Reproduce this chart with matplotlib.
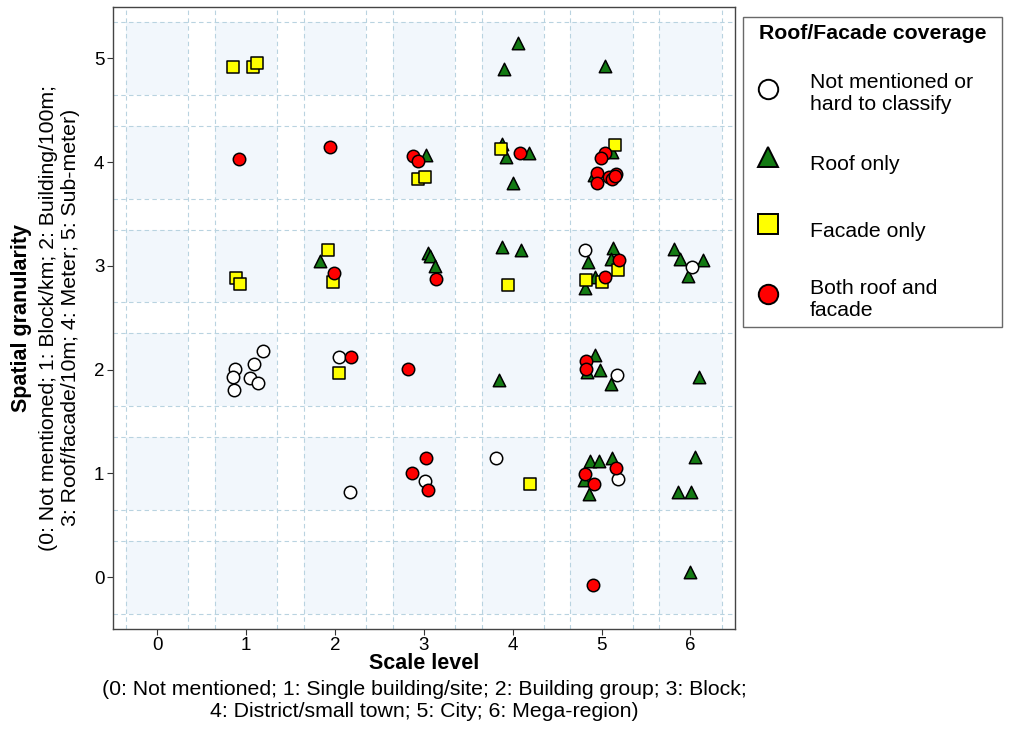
import matplotlib
matplotlib.use("Agg")
import matplotlib.pyplot as plt
from matplotlib.lines import Line2D
from matplotlib.patches import Rectangle

plt.rcParams['font.family'] = ['Liberation Sans', 'DejaVu Sans']

# scale level (x) / spatial granularity (y), jittered positions
none_x = [0.876, 0.854, 0.861, 1.045, 1.086, 1.135, 1.191, 2.041, 2.169, 3.011,
          3.813, 4.809, 6.019, 5.172, 5.183]
none_y = [2.01, 1.934, 1.80, 1.924, 2.052, 1.872, 2.184, 2.12, 0.819, 0.925,
          1.146, 3.157, 2.99, 1.946, 0.944]

roof_x = [1.835, 3.022, 3.045, 3.075, 3.124,
          4.064, 3.906, 3.884, 3.929, 4.184, 4.008, 3.876, 4.09, 3.85,
          5.037, 5.12, 4.914, 5.124, 4.846, 5.101, 4.921, 4.817,
          4.839, 4.921, 4.985, 5.109,
          4.873, 4.97, 5.116, 4.801, 4.862,
          5.82, 5.88, 6.146, 5.974, 6.094, 6.056, 5.862, 6.011, 6.0]
roof_y = [3.044, 4.068, 3.128, 3.092, 2.999,
          5.151, 4.9, 4.178, 4.049, 4.09, 3.799, 3.182, 3.15, 1.898,
          4.926, 4.097, 3.873, 3.172, 3.038, 3.07, 2.893, 2.791,
          1.978, 2.139, 1.994, 1.866,
          1.12, 1.12, 1.153, 0.941, 0.806,
          3.167, 3.07, 3.06, 2.9, 1.93, 1.159, 0.822, 0.822, 0.051]

facade_x = [0.854, 1.079, 1.124, 0.884, 0.936, 1.921, 1.974, 2.049,
            2.933, 3.015, 3.873, 3.944, 4.191, 5.146, 5.18, 4.824, 5.008]
facade_y = [4.913, 4.913, 4.96, 2.887, 2.83, 3.157, 2.842, 1.972,
            3.834, 3.857, 4.123, 2.813, 0.896, 4.168, 2.964, 2.868, 2.845]

both_x = [0.918, 1.944, 1.993, 2.187,
          2.876, 2.933, 3.135, 2.82, 3.022, 2.869, 3.049,
          4.083,
          5.037, 4.996, 4.951, 4.944, 5.086, 5.12, 5.165, 5.157,
          5.199, 5.042, 4.828, 4.828, 5.161, 4.812, 4.914, 4.906]
both_y = [4.03, 4.146, 2.932, 2.12,
          4.056, 4.014, 2.874, 2.01, 1.153, 1.005, 0.838,
          4.085,
          4.088, 4.04, 3.895, 3.799, 3.857, 3.841, 3.889, 3.863,
          3.054, 2.89, 2.084, 2.004, 1.053, 0.999, 0.896, -0.074]

levels = [0, 1, 2, 3, 4, 5, 6]
granularity = [0, 1, 2, 3, 4, 5]

legend_labels = ["Not mentioned or\nhard to classify", "Roof only",
                 "Facade only", "Both roof and\nfacade"]

fig = plt.figure(figsize=(10.15, 7.29), dpi=100)
ax = fig.add_axes([0.111, 0.137, 0.613, 0.854])

half = 0.35
# shaded cells around each integer combination
for i in levels:
    for j in granularity:
        ax.add_patch(Rectangle((i - half, j - half), 2 * half, 2 * half,
                               facecolor='#f2f7fc', edgecolor='none', zorder=0))
for i in levels:
    for d in (-half, half):
        ax.axvline(i + d, color='#b9d3e0', lw=0.8, ls=(0, (4, 3)), zorder=1)
for j in granularity:
    for d in (-half, half):
        ax.axhline(j + d, color='#b9d3e0', lw=0.8, ls=(0, (4, 3)), zorder=1)

msize = 80
ax.scatter(roof_x, roof_y, marker='^', s=msize, c='#137a13', edgecolors='black',
           linewidths=1.1, zorder=3)
ax.scatter(facade_x, facade_y, marker='s', s=msize, c='#ffff00', edgecolors='black',
           linewidths=1.1, zorder=4)
ax.scatter(none_x, none_y, marker='o', s=msize, c='white', edgecolors='black',
           linewidths=1.1, zorder=5)
ax.scatter(both_x, both_y, marker='o', s=msize, c='#ff0000', edgecolors='black',
           linewidths=1.1, zorder=6)

ax.set_xlim(-0.5, 6.5)
ax.set_ylim(-0.5, 5.5)
ax.set_xticks(levels)
ax.set_yticks(granularity)
ax.tick_params(labelsize=13.5, length=4, pad=2, color='#333333', labelcolor='black')
for s in ax.spines.values():
    s.set_color('#444444')
    s.set_linewidth(1.0)

# axis titles: bold name and plain explanation
fig.text(0.4177, 0.090, "Scale level", fontsize=15.5, fontweight='bold',
         ha='center', va='center')
fig.text(0.4177, 0.039,
         "(0: Not mentioned; 1: Single building/site; 2: Building group; 3: Block;\n"
         "4: District/small town; 5: City; 6: Mega-region)",
         fontsize=15.3, ha='center', va='center', multialignment='center',
         linespacing=1.22)
fig.text(0.0207, 0.564, "Spatial granularity", fontsize=15.5, fontweight='bold',
         rotation=90, ha='center', va='center')
fig.text(0.0586, 0.564,
         "(0: Not mentioned; 1: Block/km; 2: Building/100m;\n"
         "3: Roof/facade/10m; 4: Meter; 5: Sub-meter)",
         fontsize=15.3, rotation=90, ha='center', va='center', multialignment='center',
         linespacing=1.22)

handles = [
    Line2D([], [], ls='none', marker='o', ms=14, mfc='white', mec='black', mew=1.4),
    Line2D([], [], ls='none', marker='^', ms=14, mfc='#137a13', mec='black', mew=1.4),
    Line2D([], [], ls='none', marker='s', ms=14, mfc='#ffff00', mec='black', mew=1.4),
    Line2D([], [], ls='none', marker='o', ms=14, mfc='#ff0000', mec='black', mew=1.4),
]
leg = fig.legend(handles, legend_labels, title="Roof/Facade coverage",
                 loc='upper left', bbox_to_anchor=(0.732, 0.977, 0.255, 0.0),
                 mode='expand',
                 fontsize=15.3, title_fontproperties={'weight': 'bold', 'size': 15.3},
                 frameon=True, fancybox=False, edgecolor='#444444',
                 handlelength=1.66, handleheight=2.3, handletextpad=1.14,
                 labelspacing=1.42, borderpad=0.35, borderaxespad=0)
leg.get_frame().set_linewidth(1.0)

fig.savefig("out.png", dpi=100)
